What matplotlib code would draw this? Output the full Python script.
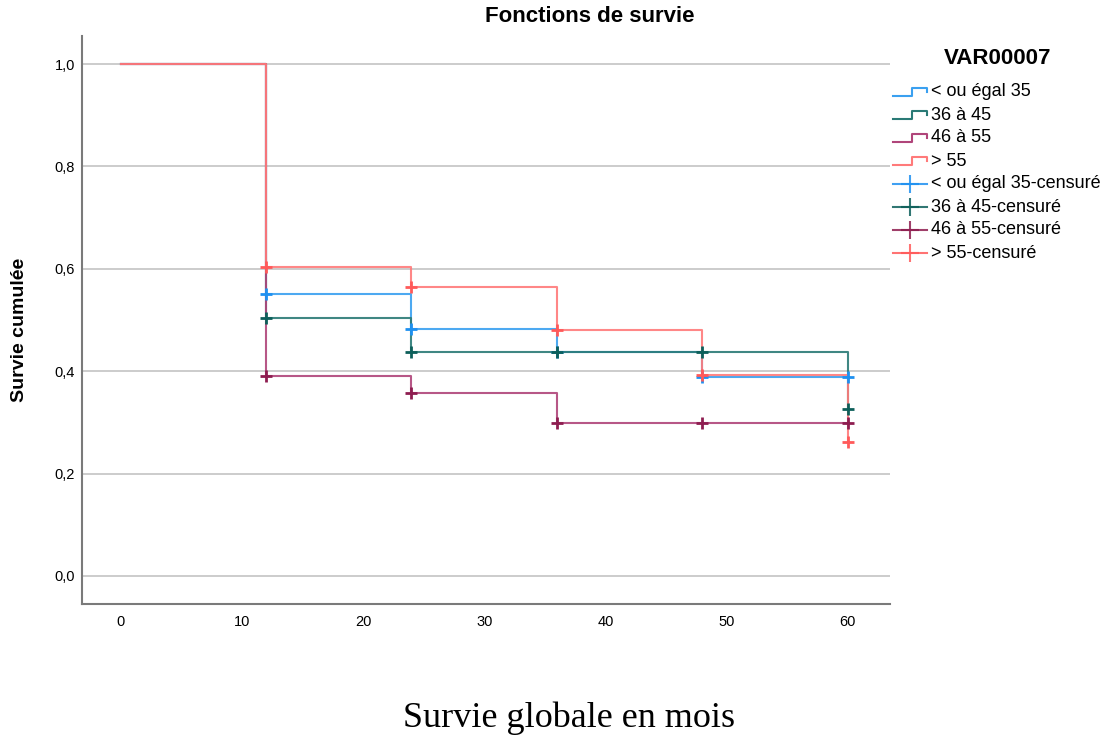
import matplotlib.pyplot as plt
from matplotlib.lines import Line2D
from matplotlib.ticker import FuncFormatter

# Survie cumulée (Kaplan-Meier) par tranche d'âge
temps = [0, 12, 24, 36, 48, 60]
surv_35 = [1.0, 0.551, 0.482, 0.437, 0.389, 0.389]
surv_36_45 = [1.0, 0.504, 0.437, 0.437, 0.437, 0.327]
surv_46_55 = [1.0, 0.391, 0.357, 0.298, 0.298, 0.298]
surv_55 = [1.0, 0.604, 0.565, 0.480, 0.393, 0.262]

groupes = ["< ou égal 35", "36 à 45", "46 à 55", "> 55"]
couleurs_ligne = ["#3aa0f0", "#2a7a76", "#b0457a", "#ff7a7a"]
couleurs_cens = ["#1e90f0", "#0d5f5a", "#8e1d50", "#ff5a5a"]
series = [surv_35, surv_36_45, surv_46_55, surv_55]

plt.rcParams['font.family'] = ['Liberation Sans', 'DejaVu Sans']

W, H = 1110, 737
fig = plt.figure(figsize=(W / 100, H / 100), dpi=100)
ax = fig.add_axes([82 / W, 1 - 604 / H, 808 / W, 568 / H])

for surv, c in zip(series, couleurs_ligne):
    ax.plot(temps, surv, drawstyle='steps-post', color=c, lw=1.5, alpha=0.9)

for surv, c in zip(series, couleurs_cens):
    ax.plot(temps[1:], surv[1:], ls='none', marker='+', ms=9, mew=2, color=c)

ax.set_xlim(-3.2, 63.5)
ax.set_ylim(-0.055, 1.055)
ax.set_xticks([0, 10, 20, 30, 40, 50, 60])
ax.set_yticks([0.0, 0.2, 0.4, 0.6, 0.8, 1.0])
ax.yaxis.set_major_formatter(FuncFormatter(lambda v, p: f"{v:.1f}".replace('.', ',')))
ax.tick_params(length=0, labelsize=10.5)
ax.tick_params(axis='x', pad=8)
ax.tick_params(axis='y', pad=5)
ax.grid(axis='y', color='#c8c8c8', lw=1.3)
ax.set_axisbelow(True)
for s in ['top', 'right']:
    ax.spines[s].set_visible(False)
for s in ['left', 'bottom']:
    ax.spines[s].set_color('#7a7a7a')
    ax.spines[s].set_linewidth(1.5)

fig.text(20 / W, 1 - 330 / H, "Survie cumulée", rotation=90, ha='center', va='center',
         fontsize=14, fontweight='bold')
fig.text(590 / W, 1 - 17 / H, "Fonctions de survie", ha='center', va='center',
         fontsize=16, fontweight='bold')
fig.text(569 / W, 1 - 718 / H, "Survie globale en mois", ha='center', va='center',
         fontsize=26, family='Liberation Serif')

# légende : marches pour les courbes, croix pour les observations censurées
fig.text(998 / W, 1 - 58 / H, "VAR00007", ha='center', va='center',
         fontsize=16, fontweight='bold')
etiquettes = groupes + [g + "-censuré" for g in groupes]
couleurs_leg = couleurs_ligne + couleurs_cens
for i, (lab, c) in enumerate(zip(etiquettes, couleurs_leg)):
    y = 92 + i * 23.0
    if i < 4:
        xs = [893, 912, 912, 927, 927]
        ys = [y + 4, y + 4, y - 4, y - 4, y]
        fig.add_artist(Line2D([x / W for x in xs], [1 - v / H for v in ys],
                              color=c, lw=1.5, transform=fig.transFigure))
    else:
        fig.add_artist(Line2D([893 / W, 927 / W], [1 - y / H] * 2, color=c, lw=1.5,
                              alpha=0.85, transform=fig.transFigure))
        fig.add_artist(Line2D([910 / W], [1 - y / H], color=c, marker='+', ms=13,
                              mew=1.5, ls='none', alpha=0.85, transform=fig.transFigure))
    fig.text(931 / W, 1 - y / H, lab, ha='left', va='center', fontsize=13)

fig.savefig("out.png", dpi=100)
